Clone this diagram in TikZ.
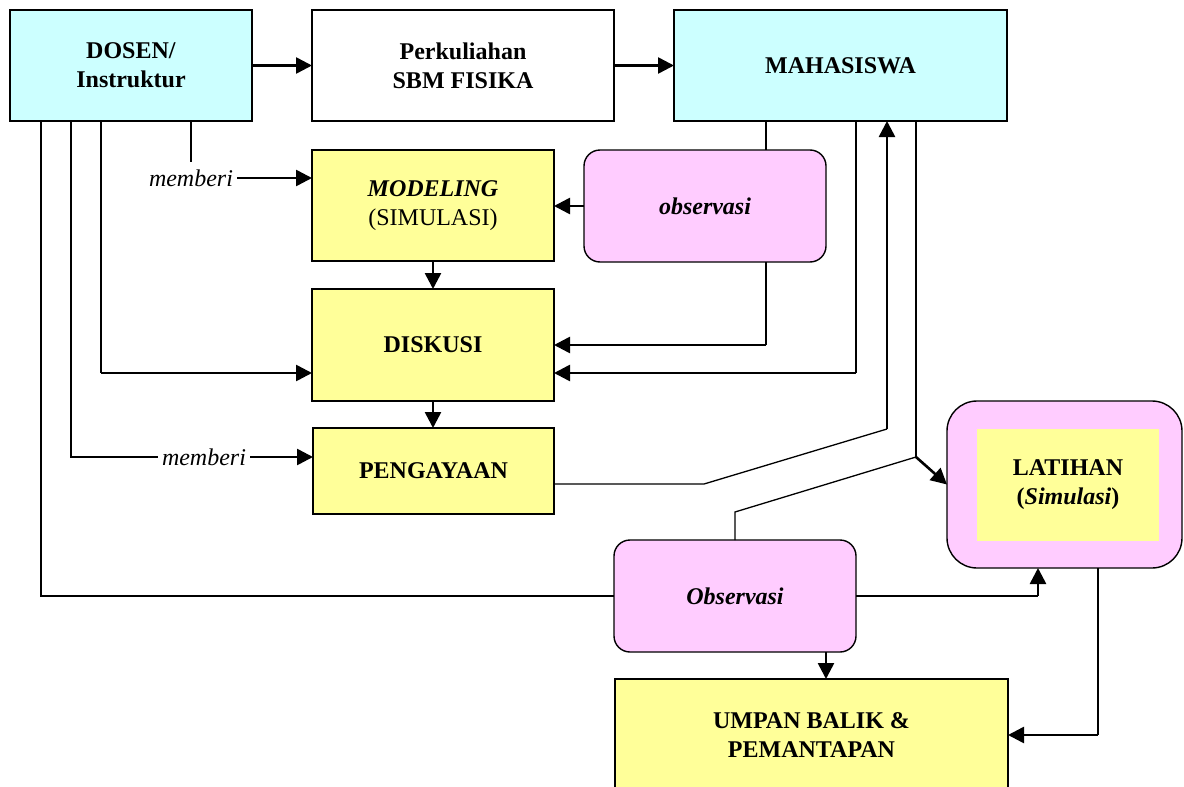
\documentclass[tikz,border=0pt]{standalone}
\usepackage{fontspec}
\setmainfont{Liberation Serif}
\usetikzlibrary{arrows.meta}
\definecolor{cyanbox}{HTML}{CCFFFF}
\definecolor{yelbox}{HTML}{FFFF99}
\definecolor{pinkbox}{HTML}{FFCCFF}
\begin{document}
\begin{tikzpicture}[x=1pt,y=-1pt,
  font=\fontsize{24}{29}\selectfont,
  box/.style={draw=black,line width=1.4pt,inner sep=0pt,outer sep=0pt,align=center},
  rbox/.style={box,fill=pinkbox,rounded corners=16pt},
  ln/.style={draw=black,line width=1.3pt},
  arr/.style={draw=black,line width=2.6pt,-{Triangle[length=16pt,width=16pt]}},
  lbl/.style={inner sep=4pt,font=\fontsize{24}{29}\selectfont\itshape}
]
\useasboundingbox (0,0) rectangle (1184,787);
\clip (0,0) rectangle (1184,787);

% nodes
\node[box,fill=cyanbox,minimum width=242pt,minimum height=111pt] (dosen) at (131,65.5) {\textbf{DOSEN/}\\\textbf{Instruktur}};
\node[box,fill=white,minimum width=302pt,minimum height=111pt] (perk) at (463,65.5) {\textbf{Perkuliahan}\\\textbf{SBM FISIKA}};
\node[box,fill=cyanbox,minimum width=333pt,minimum height=111pt] (maha) at (840.5,65.5) {\textbf{MAHASISWA}};
\node[box,fill=yelbox,minimum width=242pt,minimum height=111pt] (model) at (433,205.5) {\textbf{\textit{MODELING}}\\(SIMULASI)};
\node[rbox,minimum width=242pt,minimum height=112pt] (obs1) at (705,206) {\textbf{\textit{observasi}}};
\node[box,fill=yelbox,minimum width=242pt,minimum height=112pt] (disk) at (433,345) {\textbf{DISKUSI}};
\node[box,fill=yelbox,minimum width=241pt,minimum height=86pt] (peng) at (433.5,471) {\textbf{PENGAYAAN}};
\node[rbox,minimum width=242pt,minimum height=112pt] (obs2) at (735,596) {\textbf{\textit{Observasi}}};
\node[box,fill=pinkbox,rounded corners=30pt,minimum width=235pt,minimum height=167pt] (lat) at (1064.5,484.5) {};
\node[fill=yelbox,inner sep=0pt,minimum width=182pt,minimum height=112pt,align=center] (latin) at (1068,485) {\textbf{LATIHAN}\\\textbf{(\textit{Simulasi})}};
\node[box,fill=yelbox,minimum width=393pt,minimum height=112pt] (umpan) at (811.5,735) {\textbf{UMPAN BALIK \&}\\\textbf{PEMANTAPAN}};

\node[lbl] (mem1) at (191,178) {memberi};
\node[lbl] (mem2) at (204,457) {memberi};

% helper coordinates
\coordinate (x41) at (41,0);
\coordinate (x71) at (71,0);
\coordinate (x101) at (101,0);
\coordinate (x191) at (191,162);
\coordinate (x766) at (766,0);
\coordinate (x856) at (856,0);
\coordinate (x887) at (887,0);
\coordinate (x916) at (916,0);
\coordinate (x735) at (735,0);
\coordinate (x826) at (826,0);
\coordinate (x1038) at (1038,0);
\coordinate (x1098) at (1098,0);
\coordinate (y373) at (0,373);
\coordinate (y457) at (0,457);
\coordinate (y484) at (0,484);
\coordinate (j916) at (916,457);
\coordinate (bend1) at (704,484);
\coordinate (bend2) at (887,429);
\coordinate (bend3) at (735,512);

% connectors
\draw[arr] (dosen) -- (perk);
\draw[arr] (perk) -- (maha);

\draw[ln] (dosen.south -| x191) -- (x191);
\draw[arr] (mem1.east) -- (model.west |- mem1.east);

\draw[arr] (model) -- (disk);
\draw[arr] (disk.south) -- (peng.north -| disk.south);

\draw[arr] (obs1.west) -- (model.east |- obs1.west);
\draw[ln] (maha.south -| x766) -- (obs1.north -| x766);
\draw[ln] (obs1.south -| x766) -- (x766 |- disk.east);
\draw[arr] (x766 |- disk.east) -- (disk.east);

\draw[ln] (maha.south -| x856) -- (x856 |- y373);
\draw[arr] (x856 |- y373) -- (disk.east |- y373);

\draw[ln] (dosen.south -| x101) -- (x101 |- y373);
\draw[arr] (x101 |- y373) -- (disk.west |- y373);

\draw[ln] (dosen.south -| x71) |- (mem2.west);
\draw[arr] (mem2.east) -- (peng.west |- mem2.east);

\draw[ln] (peng.east |- y484) -- (bend1) -- (bend2);
\draw[arr] (bend2) -- (maha.south -| x887);

\draw[ln] (maha.south -| x916) -- (j916);
\draw[arr] (j916) -- (lat.west);
\draw[ln] (obs2.north -| x735) -- (bend3) -- (j916);

\draw[ln] (dosen.south -| x41) |- (obs2.west);

\draw[ln] (obs2.east) -- (x1038 |- obs2.east);
\draw[arr] (x1038 |- obs2.east) -- (lat.south -| x1038);

\draw[arr] (obs2.south -| x826) -- (umpan.north -| x826);

\draw[ln] (lat.south -| x1098) -- (x1098 |- umpan.east);
\draw[arr] (x1098 |- umpan.east) -- (umpan.east);
\end{tikzpicture}
\end{document}
